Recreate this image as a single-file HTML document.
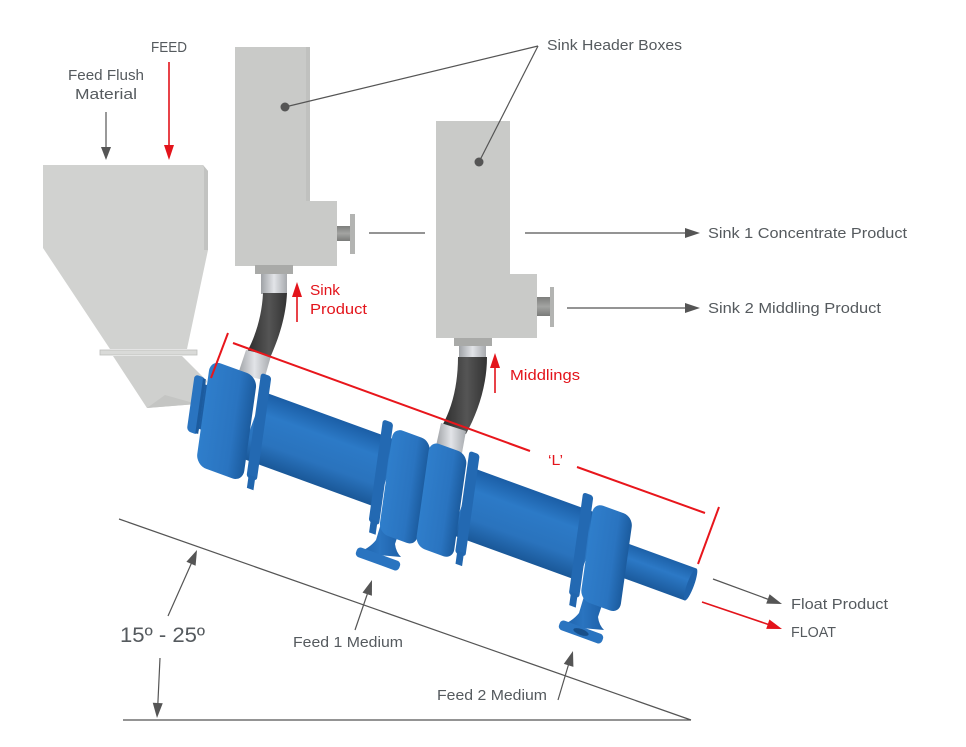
<!DOCTYPE html>
<html><head><meta charset="utf-8"><style>
html,body{margin:0;padding:0;background:#fff;}
svg{display:block;}
text{font-family:"Liberation Sans",sans-serif;}
</style></head><body>
<svg width="966" height="747" viewBox="0 0 966 747" xmlns="http://www.w3.org/2000/svg">
<defs>
 <linearGradient id="bodyG" x1="0" y1="-35" x2="0" y2="35" gradientUnits="userSpaceOnUse">
   <stop offset="0" stop-color="#1b5ea6"/>
   <stop offset="0.3" stop-color="#2c7ac7"/>
   <stop offset="0.7" stop-color="#2a73bd"/>
   <stop offset="1" stop-color="#1a5898"/>
 </linearGradient>
 <linearGradient id="pipeG" x1="0" y1="-17" x2="0" y2="17" gradientUnits="userSpaceOnUse">
   <stop offset="0" stop-color="#1d61a8"/>
   <stop offset="0.4" stop-color="#2c79c6"/>
   <stop offset="1" stop-color="#1b5a9c"/>
 </linearGradient>
 <linearGradient id="discG" x1="0" y1="0" x2="1" y2="0">
   <stop offset="0" stop-color="#2f7ecb"/>
   <stop offset="0.65" stop-color="#2a74c0"/>
   <stop offset="1" stop-color="#1b5b9e"/>
 </linearGradient>
 <linearGradient id="hoseG" x1="0" y1="0" x2="1" y2="0">
   <stop offset="0" stop-color="#2c2c2c"/>
   <stop offset="0.55" stop-color="#555"/>
   <stop offset="1" stop-color="#333"/>
 </linearGradient>
 <linearGradient id="ferG" x1="0" y1="0" x2="1" y2="0">
   <stop offset="0" stop-color="#9fa2a6"/>
   <stop offset="0.5" stop-color="#e2e4e8"/>
   <stop offset="1" stop-color="#a7aaae"/>
 </linearGradient>
 <linearGradient id="stubG" x1="0" y1="0" x2="0" y2="1">
   <stop offset="0" stop-color="#7d7e7c"/>
   <stop offset="0.5" stop-color="#a3a4a2"/>
   <stop offset="1" stop-color="#7a7b79"/>
 </linearGradient>
 <linearGradient id="feedG" x1="0" y1="0" x2="1" y2="0">
   <stop offset="0" stop-color="#1c5ea5"/>
   <stop offset="0.5" stop-color="#2a74c0"/>
   <stop offset="1" stop-color="#1c5ea5"/>
 </linearGradient>
</defs>

<!-- Hopper -->
<path d="M43,165 L203,165 L208,171 L208,250 L187,349 L110,349 L43,248 Z" fill="#d1d2d0"/>
<path d="M203,165 L208,171 L208,250 L204,250 L204,168 Z" fill="#c2c3c1"/>
<path d="M113,356 L182,356 L207,381 L197,404 L147,408 Z" fill="#cfd0ce"/>
<path d="M165,395 L197,404 L147,408 Z" fill="#c4c5c3"/>
<rect x="100" y="350" width="97" height="5" fill="#d9dad8" stroke="#bdbebc" stroke-width="0.8"/>

<!-- Sink box 1 -->
<path d="M235,47 H310 V201 H337 V266 H235 Z" fill="#c9cac8"/>
<rect x="306" y="47" width="4" height="154" fill="#c0c1bf"/>
<rect x="337" y="226" width="14" height="15" fill="url(#stubG)"/>
<rect x="350" y="214" width="5" height="40" fill="#b3b4b2"/>
<rect x="255" y="265" width="38" height="9" fill="#a9aaa8"/>
<rect x="261" y="274" width="26" height="20" fill="url(#ferG)"/>

<!-- Sink box 2 -->
<path d="M436,121 H510 V274 H537 V338 H436 Z" fill="#c9cac8"/>
<rect x="537" y="297" width="14" height="19" fill="url(#stubG)"/>
<rect x="550" y="287" width="4" height="40" fill="#b3b4b2"/>
<rect x="454" y="338" width="38" height="8" fill="#a9aaa8"/>
<rect x="459" y="346" width="27" height="12" fill="url(#ferG)"/>

<!-- Hoses -->
<path d="M263,293 C262,315 256,335 247,352 L270,358 C279,338 286,316 287,293 Z" fill="url(#hoseG)"/>
<path d="M246,350 L271,356 L264,380 L238,374 Z" fill="url(#ferG)"/>
<path d="M458,357 C458,385 452,408 442,426 L466,434 C478,412 487,385 487,357 Z" fill="url(#hoseG)"/>
<path d="M441,423 L466,431 L462,453 L436,446 Z" fill="url(#ferG)"/>

<!-- Feed pipes (screen coords) -->
<path d="M385,510 L404,517 L395,544 Q396,552 401,557 L356,553 Q369,549 376,540 Z" fill="url(#feedG)"/>
<g transform="translate(378,559) rotate(20)"><rect x="-23" y="-5" width="46" height="10" rx="4" fill="#2a74c0"/></g>
<path d="M588,583 L607,590 L598,617 Q599,625 604,630 L559,626 Q572,622 579,613 Z" fill="url(#feedG)"/>
<g transform="translate(581,632) rotate(20)"><rect x="-23" y="-5" width="46" height="10" rx="4" fill="#2a74c0"/><ellipse cx="0" cy="0" rx="8" ry="3" fill="#174f8a"/></g>

<!-- Blue cyclone assembly -->
<g transform="translate(280,435) rotate(20)">
  <!-- outlet pipe -->
  <rect x="360" y="-17" width="77" height="34" fill="url(#pipeG)"/>
  <ellipse cx="437" cy="0" rx="3.5" ry="17" fill="#1f63ab"/>
  <!-- bodies -->
  <rect x="-30" y="-35" width="145" height="70" fill="url(#bodyG)"/>
  <rect x="195" y="-35" width="135" height="70" fill="url(#bodyG)"/>
  <!-- small left disc + neck -->
  <rect x="-88" y="-22" width="12" height="44" fill="#1d5ea3"/>
  <g transform="translate(-89,0) skewX(12)">
    <rect x="-6" y="-28" width="12" height="56" rx="4" fill="#2a74c0"/>
    <rect x="3" y="-27" width="3" height="54" fill="#1c5b9e"/>
  </g>
  <!-- big disc 1 -->
  <g transform="translate(-55,5) skewX(12)"><rect x="-25" y="-52" width="50" height="104" rx="11" fill="url(#discG)"/></g>
  <!-- thin flange 1 -->
  <g transform="translate(-22,0) skewX(12)">
    <rect x="-6" y="-52" width="11" height="103" rx="3" fill="#2369b2"/>
    <rect x="-4" y="48" width="7" height="13" fill="#2166ae"/>
  </g>
  <!-- thin flange 2 -->
  <g transform="translate(108,0) skewX(12)">
    <rect x="-6" y="-50" width="11" height="101" rx="3" fill="#2369b2"/>
    <rect x="-4" y="48" width="7" height="13" fill="#2166ae"/>
  </g>
  <!-- big disc A -->
  <g transform="translate(135,6) skewX(12)"><rect x="-20" y="-52" width="40" height="104" rx="10" fill="url(#discG)"/></g>
  <!-- big disc B -->
  <g transform="translate(174,6) skewX(12)"><rect x="-20" y="-52" width="40" height="104" rx="10" fill="url(#discG)"/></g>
  <!-- thin flange 3 -->
  <g transform="translate(200,0) skewX(12)">
    <rect x="-6" y="-50" width="11" height="101" rx="3" fill="#2369b2"/>
    <rect x="-4" y="48" width="7" height="13" fill="#2166ae"/>
  </g>
  <!-- thin flange 4 -->
  <g transform="translate(321,0) skewX(12)">
    <rect x="-6" y="-50" width="11" height="101" rx="3" fill="#2369b2"/>
    <rect x="-4" y="48" width="7" height="13" fill="#2166ae"/>
  </g>
  <!-- big disc C -->
  <g transform="translate(349,4) skewX(12)"><rect x="-21" y="-48" width="42" height="96" rx="10" fill="url(#discG)"/></g>
</g>

<!-- Red dimension L -->
<g stroke="#e8161c" stroke-width="2" fill="none">
  <line x1="228" y1="333" x2="211" y2="378"/>
  <line x1="233" y1="343" x2="530" y2="451"/>
  <line x1="577" y1="467" x2="705" y2="513"/>
  <line x1="719" y1="507" x2="698" y2="564"/>
</g>

<!-- Red flow arrows -->
<g stroke="#e3141b" stroke-width="1.6">
  <line x1="169" y1="62" x2="169" y2="147"/>
  <line x1="297" y1="322" x2="297" y2="295"/>
  <line x1="495" y1="393" x2="495" y2="366"/>
  <line x1="702" y1="602" x2="770" y2="625"/>
</g>
<g fill="#e3141b">
  <polygon points="164,145 174,145 169,160"/>
  <polygon points="292,297 302,297 297,282"/>
  <polygon points="490,368 500,368 495,353"/>
  <polygon points="766.2,628.9 769.4,619.5 782,629"/>
</g>

<!-- Gray lines & arrows -->
<g stroke="#555" stroke-width="1.2" fill="none">
  <line x1="106" y1="112" x2="106" y2="148"/>
  <line x1="538" y1="46" x2="285" y2="107"/>
  <line x1="538" y1="46" x2="479" y2="162"/>
  <line x1="369" y1="233" x2="425" y2="233"/>
  <line x1="525" y1="233" x2="687" y2="233"/>
  <line x1="567" y1="308" x2="687" y2="308"/>
  <line x1="713" y1="579" x2="770" y2="600"/>
  <line x1="119" y1="519" x2="691" y2="720"/>
  <line x1="123" y1="720" x2="691" y2="720"/>
  <line x1="168" y1="616" x2="192" y2="562"/>
  <line x1="160" y1="658" x2="157.8" y2="705"/>
  <line x1="355" y1="630" x2="368" y2="592"/>
  <line x1="558" y1="700" x2="569" y2="663"/>
</g>
<g fill="#555">
  <circle cx="285" cy="107" r="4.5"/>
  <circle cx="479" cy="162" r="4.5"/>
  <polygon points="101,147 111,147 106,160"/>
  <polygon points="685,228 685,238 700,233"/>
  <polygon points="685,303 685,313 700,308"/>
  <polygon points="766.2,603.6 769.6,594.2 782,604"/>
  <polygon points="195.6,565.7 186.4,561.7 197,550"/>
  <polygon points="162.75,703.25 152.75,702.75 157,718"/>
  <polygon points="371.9,595.8 362.5,592.6 372,580"/>
  <polygon points="573.4,666.9 563.8,663.9 573,651"/>
</g>

<!-- Labels -->
<g fill="#555a5e" font-size="15">
  <text x="151" y="52" textLength="36" lengthAdjust="spacingAndGlyphs">FEED</text>
  <text x="68" y="80" textLength="76" lengthAdjust="spacingAndGlyphs">Feed Flush</text>
  <text x="75" y="99" textLength="62" lengthAdjust="spacingAndGlyphs">Material</text>
  <text x="547" y="50" textLength="135" lengthAdjust="spacingAndGlyphs">Sink Header Boxes</text>
  <text x="708" y="238" textLength="199" lengthAdjust="spacingAndGlyphs">Sink 1 Concentrate Product</text>
  <text x="708" y="313" textLength="173" lengthAdjust="spacingAndGlyphs">Sink 2 Middling Product</text>
  <text x="791" y="609" textLength="97" lengthAdjust="spacingAndGlyphs">Float Product</text>
  <text x="791" y="637" textLength="45" lengthAdjust="spacingAndGlyphs">FLOAT</text>
  <text x="293" y="647" textLength="110" lengthAdjust="spacingAndGlyphs">Feed 1 Medium</text>
  <text x="437" y="700" textLength="110" lengthAdjust="spacingAndGlyphs">Feed 2 Medium</text>
  <text x="120" y="642" font-size="21" textLength="85" lengthAdjust="spacingAndGlyphs">15º - 25º</text>
</g>
<g fill="#e3141b" font-size="15">
  <text x="310" y="295" textLength="30" lengthAdjust="spacingAndGlyphs">Sink</text>
  <text x="310" y="314" textLength="57" lengthAdjust="spacingAndGlyphs">Product</text>
  <text x="510" y="380" textLength="70" lengthAdjust="spacingAndGlyphs">Middlings</text>
  <text x="548" y="465" textLength="15" lengthAdjust="spacingAndGlyphs">‘L’</text>
</g>
</svg>
</body></html>
